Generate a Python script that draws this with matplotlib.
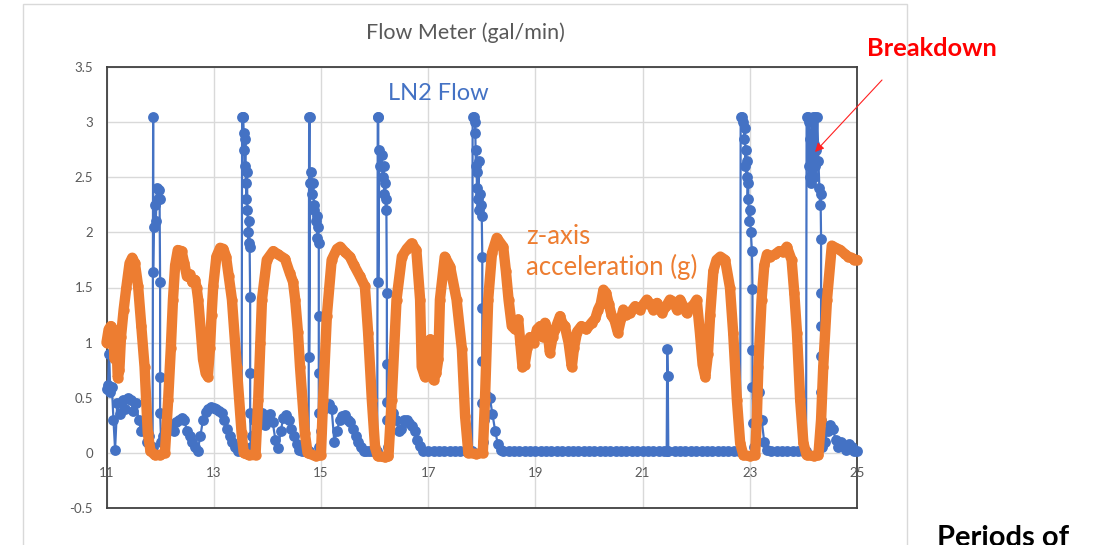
import matplotlib
matplotlib.use("Agg")
import matplotlib.pyplot as plt
from matplotlib.patches import Rectangle


# LN2 flow meter reading (gal/min)
flow_x = [
    11.0, 11.03, 11.05, 11.07, 11.1, 11.13, 11.16, 11.2, 11.25, 11.3,
    11.35, 11.4, 11.45, 11.5, 11.55, 11.6, 11.65, 11.7, 11.75, 11.8,
    11.86, 11.87, 11.87, 11.88, 11.9, 11.92, 11.94, 11.96, 11.98, 11.99,
    12.0, 12.0, 12.0, 12.02, 12.05, 12.1, 12.15, 12.2, 12.25, 12.3,
    12.35, 12.4, 12.45, 12.5, 12.55, 12.6, 12.65, 12.7, 12.75, 12.8,
    12.85, 12.9, 12.95, 13.0, 13.05, 13.1, 13.15, 13.2, 13.25, 13.3,
    13.35, 13.4, 13.45, 13.52, 13.53, 13.54, 13.55, 13.56, 13.57, 13.58,
    13.59, 13.6, 13.61, 13.62, 13.63, 13.64, 13.65, 13.66, 13.67, 13.68,
    13.68, 13.68, 13.69, 13.72, 13.76, 13.8, 13.85, 13.9, 13.95, 14.0,
    14.05, 14.1, 14.15, 14.2, 14.25, 14.3, 14.35, 14.4, 14.45, 14.5,
    14.55, 14.6, 14.65, 14.7, 14.77, 14.78, 14.79, 14.78, 14.8, 14.82,
    14.84, 14.86, 14.87, 14.88, 14.9, 14.92, 14.93, 14.95, 14.96, 14.96,
    14.96, 14.96, 14.97, 15.0, 15.05, 15.1, 15.15, 15.2, 15.25, 15.3,
    15.35, 15.4, 15.45, 15.5, 15.55, 15.6, 15.65, 15.7, 15.75, 15.8,
    15.85, 15.9, 15.95, 16.0, 16.05, 16.06, 16.07, 16.07, 16.09, 16.11,
    16.13, 16.15, 16.17, 16.18, 16.2, 16.21, 16.22, 16.23, 16.23, 16.23,
    16.24, 16.25, 16.3, 16.35, 16.4, 16.45, 16.5, 16.55, 16.6, 16.65,
    16.7, 16.75, 16.8, 16.85, 16.9, 17.0, 17.1, 17.2, 17.3, 17.4,
    17.5, 17.6, 17.7, 17.8, 17.82, 17.83, 17.85, 17.87, 17.88, 17.89,
    17.9, 17.91, 17.92, 17.93, 17.94, 17.95, 17.97, 17.99, 18.0, 18.01,
    18.01, 18.01, 18.01, 18.02, 18.05, 18.1, 18.15, 18.2, 18.25, 18.3,
    18.35, 18.4, 18.5, 18.6, 18.7, 18.8, 18.9, 19.0, 19.1, 19.2,
    19.3, 19.4, 19.5, 19.6, 19.7, 19.8, 19.9, 20.0, 20.1, 20.2,
    20.3, 20.4, 20.5, 20.6, 20.7, 20.8, 20.9, 21.0, 21.1, 21.2,
    21.3, 21.4, 21.45, 21.46, 21.47, 21.48, 21.6, 21.7, 21.8, 21.9,
    22.0, 22.1, 22.2, 22.3, 22.4, 22.5, 22.6, 22.7, 22.8, 22.82,
    22.83, 22.86, 22.88, 22.9, 22.91, 22.92, 22.93, 22.94, 22.95, 22.96,
    22.97, 22.98, 23.0, 23.02, 23.04, 23.05, 23.05, 23.05, 23.06, 23.07,
    23.12, 23.17, 23.22, 23.27, 23.32, 23.4, 23.5, 23.6, 23.7, 23.8,
    23.9, 24.0, 24.05, 24.06, 24.08, 24.1, 24.11, 24.12, 24.13, 24.14,
    24.15, 24.16, 24.17, 24.18, 24.19, 24.2, 24.21, 24.22, 24.24, 24.26,
    24.28, 24.3, 24.31, 24.32, 24.33, 24.33, 24.33, 24.33, 24.33, 24.33,
    24.35, 24.4, 24.45, 24.5, 24.55, 24.6, 24.65, 24.7, 24.75, 24.8,
    24.85, 24.9, 24.95, 25.0,
]
flow_y = [
    0.58, 0.62, 0.9, 0.55, 0.6, 0.3, 0.03, 0.45, 0.35, 0.48,
    0.4, 0.5, 0.48, 0.38, 0.45, 0.3, 0.2, 0.25, 0.1, 0.15,
    0.05, 3.05, 1.64, 2.05, 2.25, 2.1, 2.4, 2.3, 2.38, 2.3,
    1.55, 0.69, 0.36, 0.1, 0.15, 0.2, 0.27, 0.25, 0.2, 0.28,
    0.3, 0.32, 0.3, 0.2, 0.15, 0.1, 0.05, 0.02, 0.15, 0.3,
    0.37, 0.4, 0.42, 0.41, 0.4, 0.38, 0.36, 0.3, 0.22, 0.15,
    0.1, 0.05, 0.02, 0.05, 3.05, 3.05, 3.05, 2.9, 2.75, 2.6,
    2.85, 2.45, 2.3, 2.55, 2.2, 2.0, 1.9, 2.1, 1.87, 1.41,
    0.72, 0.36, 0.05, 0.15, 0.3, 0.35, 0.33, 0.36, 0.25, 0.3,
    0.35, 0.28, 0.12, 0.04, 0.2, 0.32, 0.34, 0.3, 0.22, 0.15,
    0.08, 0.03, 0.02, 0.02, 0.02, 3.05, 3.05, 0.87, 2.45, 2.55,
    2.35, 2.45, 2.2, 2.25, 2.1, 2.15, 1.95, 2.05, 1.9, 1.24,
    0.72, 0.36, 0.05, 0.2, 0.4, 0.42, 0.44, 0.4, 0.1, 0.2,
    0.3, 0.33, 0.34, 0.3, 0.28, 0.22, 0.15, 0.1, 0.05, 0.02,
    0.02, 0.02, 0.02, 0.02, 0.02, 3.05, 3.05, 1.55, 2.75, 2.6,
    2.7, 2.5, 2.6, 2.35, 2.45, 2.2, 2.3, 1.45, 0.81, 0.46,
    0.3, 0.05, 0.3, 0.36, 0.3, 0.2, 0.22, 0.3, 0.3, 0.27,
    0.24, 0.2, 0.12, 0.06, 0.02, 0.02, 0.02, 0.02, 0.02, 0.02,
    0.02, 0.02, 0.02, 0.02, 0.02, 3.05, 3.05, 3.0, 2.9, 2.6,
    2.75, 2.4, 2.55, 2.3, 2.65, 2.2, 2.35, 2.25, 2.15, 1.78,
    1.31, 0.83, 0.45, 0.1, 0.3, 0.52, 0.5, 0.35, 0.2, 0.08,
    0.03, 0.02, 0.02, 0.02, 0.02, 0.02, 0.02, 0.02, 0.02, 0.02,
    0.02, 0.02, 0.02, 0.02, 0.02, 0.02, 0.02, 0.02, 0.02, 0.02,
    0.02, 0.02, 0.02, 0.02, 0.02, 0.02, 0.02, 0.02, 0.02, 0.02,
    0.02, 0.02, 0.02, 0.94, 0.7, 0.02, 0.02, 0.02, 0.02, 0.02,
    0.02, 0.02, 0.02, 0.02, 0.02, 0.02, 0.02, 0.02, 0.02, 0.02,
    3.05, 3.05, 3.0, 2.85, 2.95, 2.6, 2.75, 2.5, 2.65, 2.3,
    2.45, 2.1, 2.2, 2.0, 1.83, 1.49, 0.93, 0.6, 0.27, 0.05,
    0.1, 0.55, 0.3, 0.1, 0.03, 0.02, 0.02, 0.02, 0.02, 0.02,
    0.02, 0.02, 0.02, 3.05, 3.05, 2.6, 3.0, 2.5, 2.85, 2.45,
    2.9, 2.55, 3.05, 2.7, 2.5, 2.8, 3.05, 2.6, 2.75, 3.05,
    2.65, 2.4, 2.25, 2.35, 1.94, 1.45, 1.15, 0.88, 0.55, 0.3,
    0.05, 0.1, 0.2, 0.25, 0.22, 0.12, 0.05, 0.1, 0.06, 0.03,
    0.08, 0.05, 0.02, 0.02,
]

# z-axis acceleration (g)
accel_x = [
    11.0, 11.04, 11.08, 11.12, 11.15, 11.18, 11.21, 11.24, 11.27, 11.32,
    11.37, 11.43, 11.48, 11.53, 11.59, 11.65, 11.71, 11.77, 11.82, 11.9,
    12.0, 12.09, 12.15, 12.2, 12.24, 12.28, 12.33, 12.4, 12.45, 12.5,
    12.55, 12.6, 12.65, 12.68, 12.71, 12.76, 12.8, 12.85, 12.89, 12.93,
    12.96, 12.99, 13.05, 13.12, 13.18, 13.23, 13.28, 13.34, 13.43, 13.52,
    13.56, 13.65, 13.78, 13.83, 13.87, 13.9, 13.99, 14.11, 14.2, 14.33,
    14.42, 14.48, 14.52, 14.57, 14.61, 14.7, 14.75, 14.9, 15.0, 15.04,
    15.11, 15.2, 15.3, 15.36, 15.45, 15.54, 15.62, 15.73, 15.82, 15.88,
    15.95, 16.01, 16.06, 16.2, 16.26, 16.32, 16.41, 16.51, 16.6, 16.69,
    16.78, 16.85, 16.88, 16.94, 16.99, 17.04, 17.08, 17.1, 17.15, 17.19,
    17.22, 17.31, 17.41, 17.53, 17.63, 17.69, 17.75, 17.9, 18.02, 18.06,
    18.12, 18.19, 18.28, 18.4, 18.45, 18.5, 18.56, 18.62, 18.68, 18.72,
    18.76, 18.8, 18.85, 18.9, 18.97, 19.03, 19.09, 19.14, 19.18, 19.23,
    19.27, 19.32, 19.37, 19.46, 19.5, 19.55, 19.62, 19.68, 19.72, 19.78,
    19.86, 19.95, 20.05, 20.12, 20.17, 20.22, 20.27, 20.32, 20.37, 20.42,
    20.48, 20.54, 20.6, 20.64, 20.7, 20.77, 20.86, 20.95, 21.02, 21.08,
    21.14, 21.2, 21.27, 21.36, 21.44, 21.51, 21.58, 21.64, 21.7, 21.76,
    21.82, 21.9, 21.96, 22.01, 22.07, 22.12, 22.17, 22.22, 22.26, 22.32,
    22.38, 22.45, 22.54, 22.63, 22.69, 22.76, 22.82, 22.88, 23.0, 23.1,
    23.13, 23.16, 23.22, 23.27, 23.32, 23.38, 23.47, 23.55, 23.62, 23.69,
    23.78, 23.83, 23.88, 23.94, 24.0, 24.06, 24.2, 24.28, 24.33, 24.37,
    24.44, 24.53, 24.6, 24.69, 24.78, 24.84, 24.9, 24.95, 25.0,
]
accel_y = [
    1.0, 1.12, 1.15, 1.12, 0.85, 1.1, 0.68, 0.75, 1.05, 1.3,
    1.5, 1.72, 1.77, 1.72, 1.51, 1.15, 0.78, 0.18, 0.02, -0.02,
    -0.02, 0.0, 0.48, 0.95, 1.39, 1.7, 1.84, 1.83, 1.72, 1.6,
    1.62, 1.55, 1.57, 1.5, 1.39, 1.1, 0.85, 0.72, 0.69, 0.95,
    1.25, 1.51, 1.78, 1.86, 1.85, 1.78, 1.6, 1.39, 0.78, 0.18,
    0.0, -0.02, -0.02, 0.48, 1.0, 1.39, 1.75, 1.83, 1.8, 1.76,
    1.63, 1.55, 1.39, 1.1, 0.78, 0.18, 0.0, -0.03, -0.02, 0.48,
    1.24, 1.75, 1.85, 1.87, 1.82, 1.78, 1.7, 1.6, 1.51, 1.09,
    0.48, 0.05, -0.03, -0.04, -0.03, 0.48, 1.39, 1.78, 1.85, 1.9,
    1.84, 1.39, 0.78, 0.69, 0.9, 1.03, 0.95, 0.66, 0.72, 0.85,
    1.39, 1.78, 1.69, 1.39, 0.94, 0.33, 0.0, -0.01, 0.0, 0.48,
    1.39, 1.81, 1.95, 1.87, 1.65, 1.39, 1.15, 1.12, 1.21, 1.0,
    0.78, 0.8, 0.95, 1.05, 1.0, 1.12, 1.15, 1.05, 1.18, 1.1,
    0.91, 1.05, 1.12, 1.24, 1.18, 1.15, 1.0, 0.78, 0.95, 1.1,
    1.15, 1.12, 1.18, 1.22, 1.3, 1.35, 1.48, 1.45, 1.35, 1.25,
    1.2, 1.09, 1.22, 1.3, 1.25, 1.27, 1.33, 1.3, 1.35, 1.39,
    1.35, 1.3, 1.36, 1.27, 1.33, 1.39, 1.37, 1.3, 1.39, 1.33,
    1.27, 1.32, 1.35, 1.39, 1.09, 0.8, 0.69, 0.9, 1.25, 1.65,
    1.75, 1.78, 1.75, 1.5, 1.09, 0.48, 0.09, -0.02, -0.03, -0.02,
    0.3, 0.78, 1.39, 1.7, 1.8, 1.78, 1.8, 1.83, 1.82, 1.87,
    1.75, 1.45, 1.09, 0.48, 0.09, -0.02, -0.03, -0.02, 0.3, 0.78,
    1.39, 1.88, 1.86, 1.84, 1.8, 1.78, 1.77, 1.75, 1.75,
]

x_ticks = [11, 13, 15, 17, 19, 21, 23, 25]
y_ticks = [-0.5, 0, 0.5, 1, 1.5, 2, 2.5, 3, 3.5]
y_labels = ["-0.5", "0", "0.5", "1", "1.5", "2", "2.5", "3", "3.5"]

BLUE = "#4472C4"
ORANGE = "#ED7D31"
GREY = "#595959"

plt.rcParams["font.family"] = ["Lato", "DejaVu Sans"]

W, H = 1099, 545
fig = plt.figure(figsize=(W / 100, H / 100), dpi=100)

# chart area border
fig.add_artist(Rectangle((23 / W, -0.05), (907 - 23) / W, 1 - 4 / H + 0.05,
                         transform=fig.transFigure, fill=False,
                         edgecolor="#d9d9d9", lw=1.0))

ax = fig.add_axes([106.5 / W, 1 - 508 / H, (857 - 106.5) / W, (508 - 67) / H])

ax.plot(flow_x, flow_y, color=BLUE, lw=1.6, marker="o", ms=7.8,
        markeredgewidth=0, zorder=3, clip_on=False)
ax.plot(accel_x, accel_y, color=ORANGE, lw=7.5, marker="o", ms=7.5,
        markeredgewidth=0, solid_joinstyle="round", solid_capstyle="round",
        zorder=4, clip_on=False)

ax.set_xlim(11, 25)
ax.set_ylim(-0.5, 3.5)
ax.set_xticks(x_ticks)
ax.set_yticks(y_ticks)
ax.set_yticklabels(y_labels)
ax.tick_params(axis="x", length=0, labelbottom=False)
ax.tick_params(axis="y", length=0, pad=9.7, labelsize=9.5, labelcolor=GREY)
ax.grid(color="#d9d9d9", lw=1.0)
ax.set_axisbelow(True)
for s in ax.spines.values():
    s.set_color("#404040")
    s.set_linewidth(1.3)

# x labels sit on the y=0 line, like Excel's crossing axis
sec = ax.secondary_xaxis(0.125)
sec.set_xticks(x_ticks, labels=[str(t) for t in x_ticks])
sec.tick_params(length=0, pad=10.5, labelsize=9.5, labelcolor=GREY)
sec.spines["bottom"].set_visible(False)
sec.set_zorder(5)

fig.text(465 / W, 1 - 33 / H, "Flow Meter (gal/min)", ha="center",
         va="center", fontsize=15.5, color=GREY)
fig.text(388 / W, 1 - 93 / H, "LN2 Flow", ha="left", va="center",
         fontsize=17, color=BLUE)
fig.text(526 / W, 1 - 236 / H, "z-axis", ha="left", va="center",
         fontsize=18.5, color=ORANGE)
fig.text(526 / W, 1 - 267 / H, "acceleration (g)", ha="left", va="center",
         fontsize=18.5, color=ORANGE)
fig.text(867 / W, 1 - 49 / H, "Breakdown", ha="left", va="center",
         fontsize=18.3, color="#ff0000", fontweight="bold")
# cut off by the bottom edge, as in the source slide
fig.text(937 / W, 1 - 525 / H, "Periods of", ha="left", va="top",
         fontsize=21, color="black", fontweight="bold")

ax.annotate("", xy=(815, H - 152), xytext=(882, H - 80),
            xycoords="figure pixels", textcoords="figure pixels",
            arrowprops=dict(arrowstyle="-|>", color="#ff2020", lw=0.8,
                            mutation_scale=13, shrinkA=0, shrinkB=0),
            annotation_clip=False)

fig.savefig("out.png", dpi=100)
